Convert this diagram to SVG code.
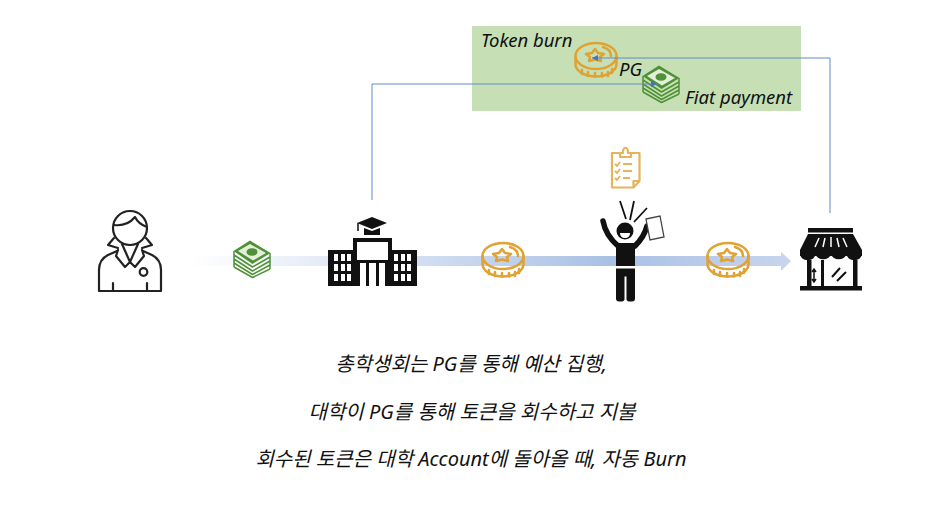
<svg xmlns="http://www.w3.org/2000/svg" width="940" height="520" viewBox="0 0 940 520">
<style>
text{font-family:"Noto Sans","Noto Sans CJK KR",sans-serif;font-style:italic;font-size:18.500px;fill:#111}
.c{text-anchor:middle;font-size:20px}
.gold{fill:none;stroke:#e0a232;stroke-width:2.500;stroke-linejoin:round;stroke-linecap:round}
.green{fill:none;stroke:#4f9136;stroke-width:1.500;stroke-linejoin:round}
.ol{fill:none;stroke:#222;stroke-width:2.200;stroke-linecap:round;stroke-linejoin:round}
.link{fill:none;stroke:#6489cc;stroke-width:1}
</style>
<defs>
<linearGradient id="g" x1="190" x2="790" y1="0" y2="0" gradientUnits="userSpaceOnUse">
<stop offset="0" stop-color="#b4c7e7" stop-opacity="0"/><stop offset=".25" stop-color="#b4c7e7" stop-opacity=".4"/><stop offset=".7" stop-color="#a9c0e4"/><stop offset="1" stop-color="#b4c7e7" stop-opacity=".75"/>
</linearGradient>
<marker id="a" markerWidth="7" markerHeight="7" refX="6" refY="3" orient="auto" markerUnits="userSpaceOnUse"><path d="M0 0L6 3L0 6z" fill="#4472c4"/></marker>
<symbol id="coin" width="44" height="36" viewBox="0 0 44 36" overflow="visible">
<ellipse class="gold" cx="22" cy="14" rx="20.500" ry="13"/>
<path class="gold" d="M1.500 14v8c0 7 9 12.500 20.500 12.500S42.500 29 42.500 22v-8"/>
<path class="gold" d="M8 28v4M14 30v4M21 31v3.500M28 31v3.500M34 30v4M38 27v4"/>
<path class="gold" d="M29 5c5 1.500 8 5 8 9" stroke-width="1.800"/>
<path class="gold" d="M21 7l3 4 6 1-4 3 1 4-6-1.500-6 1.500 1-4-4-3 6-1z"/>
</symbol>
<symbol id="cash" width="38" height="38" viewBox="0 0 38 38" overflow="visible">
<path fill="#4f9136" d="M0.500 11L17 .5 37.500 13 19.500 24z"/>
<path fill="#e4efd9" d="M5 11L17 4 33 13 20 20.500z"/>
<ellipse cx="19" cy="12" rx="5.500" ry="3.800" fill="#4f9136"/>
<path class="green" d="M1 15L19.500 27 37 17M1 19L19.500 31 37 21M1 23L19.500 34.500 37 25M1 27L19.500 37.500 37 29M1 11v16M37 13v16"/>
</symbol>
</defs>

<rect id="pg-panel" x="472" y="26" width="329" height="85" fill="#c6dfb5"/>

<g id="flow-arrow"><path d="M190 256H781V252L791 261L781 271V266H190z" fill="url(#g)"/></g>

<g id="panel-icons">
<use href="#coin" x="574" y="42"/>
<use href="#cash" x="642" y="65"/>
</g>

<g id="connectors">
<path class="link" d="M372 200V84H657" marker-end="url(#a)"/>
<path class="link" d="M830 213V58H592" marker-end="url(#a)"/>
</g>

<g id="panel-labels">
<text x="481" y="47">Token burn</text>
<text x="619" y="76">PG</text>
<text x="685" y="104">Fiat payment</text>
</g>

<g id="student">
<circle class="ol" cx="130" cy="228" r="17"/>
<path class="ol" d="M114 225c8 1 16-2 21-8 2 4 6 8 12 10"/>
<path class="ol" d="M114 238l-6 7 10 3M146 238l6 7-10 3"/>
<path class="ol" d="M117 251l-9 4c-6 3-9 8-9 15v21h62v-21c0-7-3-12-9-15l-9-4"/>
<path class="ol" d="M118 250l-2 6 9 11 5-5 5 5 9-11-2-6M122 244l8 18 8-18"/>
<circle class="ol" cx="143.500" cy="272" r="3.800"/>
<path class="ol" d="M113 283v8M147 283v8"/>
</g>

<g id="cash-student"><use href="#cash" x="233" y="240"/></g>

<g id="university" fill="#111">
<path d="M328 250H353V238H392V250H417V286H328z"/>
<path d="M357 242H388V260H357z" fill="#fff"/>
<path d="M360 262H385V286H360z" fill="#fff"/>
<path d="M360 260H385V263H360zM366 263H369V286H366zM376 263H379V286H376z"/>
<path d="M372 217L357 223 372 229 387 223zM364 228V235H380V228L372 231z"/>
<path d="M358 223V231" stroke="#111" stroke-width="1.500"/>
<g fill="#fff">
<path d="M334 254h4v7h-4zM341 254h4v7h-4zM347 254h4v7h-4zM334 264h4v7h-4zM341 264h4v7h-4zM347 264h4v7h-4zM334 274h4v7h-4zM341 274h4v7h-4zM347 274h4v7h-4z"/>
<path d="M394 254h4v7h-4zM401 254h4v7h-4zM407 254h4v7h-4zM394 264h4v7h-4zM401 264h4v7h-4zM407 264h4v7h-4zM394 274h4v7h-4zM401 274h4v7h-4zM407 274h4v7h-4z"/>
</g>
</g>

<g id="coin-1"><use href="#coin" x="481" y="242"/></g>

<g id="checklist" fill="none" stroke="#e5b35a" stroke-width="2.200" stroke-linejoin="round">
<path d="M612 153h27.500v28l-6 6.500h-21.500z"/>
<path d="M639.500 181h-6v6.500"/>
<path d="M620 157v-4h3c0-7 5-7 5 0h3v4z" fill="#fff"/>
<path d="M615 164l2 2 3-4M615 171l2 2 3-4M615 178l2 2 3-4M623 164h9M623 171h9M623 178h7" stroke-width="1.800"/>
</g>

<g id="person">
<path d="M603 221c2 11 7 18 15 25" fill="none" stroke="#111" stroke-width="5.500" stroke-linecap="round"/>
<path d="M647 226c-2 8-6 14-12 20" fill="none" stroke="#111" stroke-width="5.500" stroke-linecap="round"/>
<circle cx="625" cy="231" r="8.500" fill="#111"/>
<path d="M620 233h10c0 3-2 5-5 5s-5-2-5-5z" fill="#fff"/>
<path d="M616 243h19v23h-19zM616 268.500h19v30a3 3 0 0 1-3 3h-3a2.500 2.500 0 0 1-2.500-3v-22h-2v22a2.500 2.500 0 0 1-2.500 3h-3a3 3 0 0 1-3-3z" fill="#111"/>
<path d="M620 201l6 18M634 201l-4 19M647 208l-13 14" stroke="#111" stroke-width="1.800" fill="none"/>
<path d="M646 219l14-3 4 21-14 3z" fill="#fff" stroke="#444" stroke-width="1.300"/>
</g>

<g id="coin-2"><use href="#coin" x="706" y="242"/></g>

<g id="store" fill="#111">
<path d="M808 228H853V232.500H808z"/>
<path d="M808 234H853L862 250V256H800V250z"/>
<path d="M800 254a7.500 6 0 0 0 15.500 0a7.800 6 0 0 0 15.500 0a7.800 6 0 0 0 15.500 0a7.500 6 0 0 0 15.500 0z"/>
<path d="M807 260h4.500v27h-4.500zM853 260h4.500v27h-4.500zM800 286h62v4.500h-62zM821 260h3v27h-3z"/>
<path d="M814 270v11M812 272l2-3 2 3M812 279l2 3 2-3" stroke="#111" stroke-width="1.500" fill="none"/>
<path d="M832 277l8-9M837 281l9-9" stroke="#111" stroke-width="2"/>
<path d="M819 238l-4 9M825 238l-2 9M831 237v10M837 238l2 9M843 238l4 9" stroke="#fff" stroke-width="1.500"/>
</g>

<g id="caption">
<text class="c" x="471" y="371">총학생회는 PG를 통해 예산 집행,</text>
<text class="c" x="472" y="419">대학이 PG를 통해 토큰을 회수하고 지불</text>
<text class="c" x="471" y="466">회수된 토큰은 대학 Account에 돌아올 때, 자동 Burn</text>
</g>
</svg>
